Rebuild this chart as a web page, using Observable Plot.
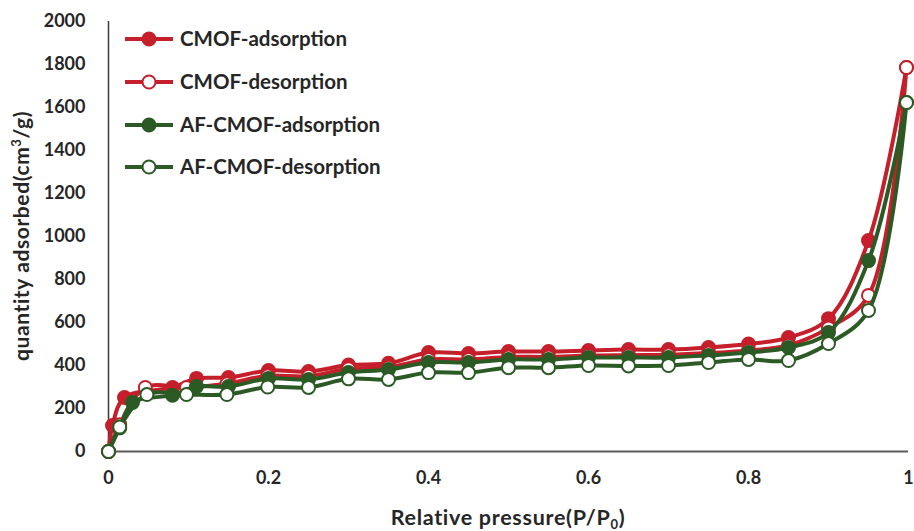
<!DOCTYPE html>
<html>
<head>
<meta charset="utf-8">
<script src="https://cdn.jsdelivr.net/npm/d3@7"></script>
<script src="https://cdn.jsdelivr.net/npm/@observablehq/plot@0.6"></script>
<style>
  html, body { margin: 0; padding: 0; background: #fff; }
  #chart { position: relative; width: 914px; height: 531px; }
</style>
</head>
<body>
<div id="chart"></div>
<script>
// ---- Data ----
const seriesNames = ["CMOF-adsorption", "CMOF-desorption", "AF-CMOF-adsorption", "AF-CMOF-desorption"];

const cmofAdsX = [0, 0.005, 0.02, 0.08, 0.11, 0.15, 0.2, 0.25, 0.3, 0.35, 0.4, 0.45, 0.5, 0.55, 0.6, 0.65, 0.7, 0.75, 0.8, 0.85, 0.9, 0.95, 0.9975];
const cmofAdsY = [0, 121, 251, 298, 340, 344, 377, 372, 402, 410, 460, 456, 465, 465, 470, 474, 474, 484, 500, 530, 618, 981, 1786];

const cmofDesX = [0, 0.014, 0.046, 0.0975, 0.148, 0.199, 0.25, 0.3, 0.35, 0.4, 0.45, 0.5, 0.55, 0.6, 0.65, 0.7, 0.75, 0.8, 0.85, 0.9, 0.95, 0.9975];
const cmofDesY = [0, 125, 298, 298, 315, 352, 350, 385, 392, 428, 428, 440, 440, 446, 448, 450, 458, 470, 494, 575, 726, 1786];

const afAdsX = [0, 0.014, 0.03, 0.08, 0.11, 0.15, 0.2, 0.25, 0.3, 0.35, 0.4, 0.45, 0.5, 0.55, 0.6, 0.65, 0.7, 0.75, 0.8, 0.85, 0.9, 0.95, 0.9975];
const afAdsY = [0, 110, 228, 262, 302, 302, 340, 335, 367, 381, 414, 414, 428, 428, 437, 437, 437, 447, 460, 484, 553, 888, 1623];

const afDesX = [0, 0.014, 0.048, 0.0975, 0.148, 0.199, 0.25, 0.3, 0.35, 0.4, 0.45, 0.5, 0.55, 0.6, 0.65, 0.7, 0.75, 0.8, 0.85, 0.9, 0.95, 0.9975];
const afDesY = [0, 114, 265, 265, 265, 300, 298, 338, 335, 367, 367, 390, 390, 400, 398, 400, 414, 428, 423, 502, 656, 1623];

const xTicks = [0, 0.2, 0.4, 0.6, 0.8, 1];
const xTickLabels = ["0", "0.2", "0.4", "0.6", "0.8", "1"];
const yTicks = [0, 200, 400, 600, 800, 1000, 1200, 1400, 1600, 1800, 2000];

const RED = "#c51f2b";
const GREEN = "#2b5a25";
const seriesColors = [RED, RED, GREEN, GREEN];
const seriesHollow = [false, true, false, true];

// ---- Build tables ----
const seriesXY = [[cmofAdsX, cmofAdsY], [cmofDesX, cmofDesY], [afAdsX, afAdsY], [afDesX, afDesY]];
const tables = seriesXY.map(([xs, ys], i) => xs.map((x, j) => ({x, y: ys[j], series: seriesNames[i]})));

const FONT = "Lato, 'Open Sans', sans-serif";
const TEXT = "#262626";

const marks = [
  Plot.ruleX([0], {y1: 0, y2: 2000, stroke: "#3a3a3a", strokeWidth: 1.5}),
  Plot.ruleY([0], {stroke: "#5a5a5a", strokeWidth: 2.2}),
  Plot.axisY({ticks: yTicks, tickSize: 0, tickPadding: 23, fontSize: 18, fontWeight: "bold", fill: TEXT, label: null, tickFormat: d => String(d)}),
  Plot.axisX({ticks: xTicks, tickSize: 0, tickPadding: 20, fontSize: 18, fontWeight: "bold", fill: TEXT, label: null, tickFormat: d => xTickLabels[xTicks.indexOf(d)]})
];
tables.forEach((t, i) => {
  marks.push(Plot.line(t, {x: "x", y: "y", stroke: seriesColors[i], strokeWidth: 4, curve: "catmull-rom"}));
  marks.push(Plot.dot(t, {x: "x", y: "y", r: 6.5, stroke: seriesColors[i], strokeWidth: 2, fill: seriesHollow[i] ? "white" : seriesColors[i]}));
});

const chart = Plot.plot({
  width: 914,
  height: 531,
  marginLeft: 108,
  marginRight: 6,
  marginTop: 21,
  marginBottom: 80,
  style: {fontFamily: FONT, background: "white", overflow: "visible"},
  x: {domain: [0, 1]},
  y: {domain: [0, 2000]},
  marks
});
document.getElementById("chart").appendChild(chart);

// ---- Titles and legend, added to the SVG ----
const svg = d3.select(chart);

// y-axis title
const yt = svg.append("text")
  .attr("transform", "translate(29,236) rotate(-90)")
  .attr("text-anchor", "middle")
  .attr("font-family", FONT).attr("font-weight", "bold").attr("font-size", 21)
  .attr("letter-spacing", 0.6)
  .attr("fill", TEXT);
yt.append("tspan").text("quantity adsorbed(cm");
yt.append("tspan").attr("dy", -8).attr("font-size", 13).text("3");
yt.append("tspan").attr("dy", 8).text("/g)");

// x-axis title
const xt = svg.append("text")
  .attr("x", 508).attr("y", 525)
  .attr("text-anchor", "middle")
  .attr("font-family", FONT).attr("font-weight", "bold").attr("font-size", 21.5)
  .attr("letter-spacing", 0.7)
  .attr("fill", TEXT);
xt.append("tspan").text("Relative pressure(P/P");
xt.append("tspan").attr("dy", 4).attr("font-size", 13).text("0");
xt.append("tspan").attr("dy", -4).text(")");

// legend
const legendRows = [39, 82, 125, 167];
const lg = svg.append("g").attr("text-anchor", "start");
seriesNames.forEach((name, i) => {
  const g = lg.append("g").attr("transform", `translate(0,${legendRows[i]})`);
  g.append("line").attr("x1", 125).attr("x2", 173).attr("y1", 0).attr("y2", 0)
    .attr("stroke", seriesColors[i]).attr("stroke-width", 4);
  g.append("circle").attr("cx", 149).attr("cy", 0).attr("r", 6.5)
    .attr("stroke", seriesColors[i]).attr("stroke-width", 2)
    .attr("fill", seriesHollow[i] ? "white" : seriesColors[i]);
  g.append("text").attr("x", 180).attr("y", 0).attr("dy", "0.36em")
    .attr("text-anchor", "start")
    .attr("font-family", FONT).attr("font-weight", "bold").attr("font-size", 20.5)
    .attr("fill", TEXT).text(name);
});
</script>
</body>
</html>
